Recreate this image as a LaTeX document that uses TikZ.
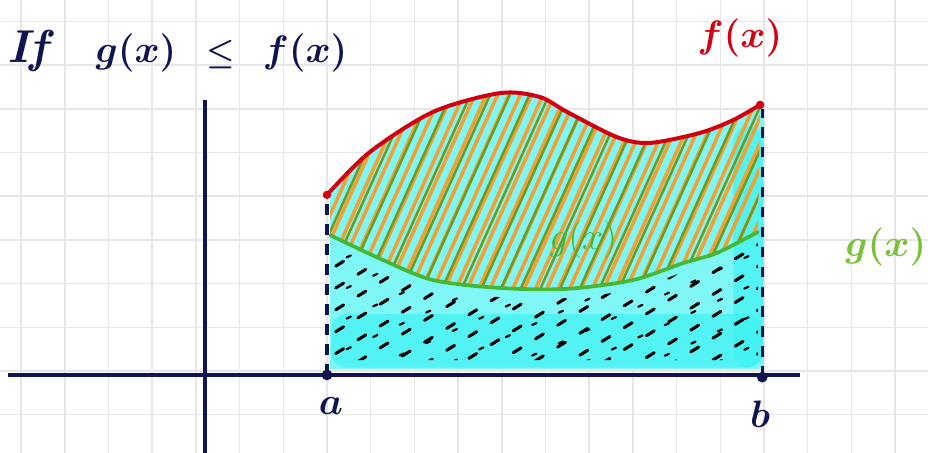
\documentclass[tikz,border=0pt]{standalone}
\usepackage{amssymb}
\usepackage{amsmath}
\usetikzlibrary{positioning}
\definecolor{Navy}{HTML}{101450}
\definecolor{GridGray}{HTML}{E6E6E6}
\definecolor{CurveRed}{HTML}{D00010}
\definecolor{CurveGreen}{HTML}{44B834}
\definecolor{LabelGreen}{HTML}{7AC13A}
\definecolor{HatchOrange}{HTML}{F2A033}
\definecolor{HatchOlive}{HTML}{6E9A22}
\definecolor{CyanLight}{HTML}{80F7F7}
\definecolor{CyanDark}{HTML}{40F2F2}

\begin{document}
\begin{tikzpicture}[
  gridline/.style={draw=GridGray, line width=1pt},
  axis/.style={draw=Navy, line width=2.6pt},
  fcurve/.style={draw=CurveRed, line width=2.6pt, line cap=round},
  gcurve/.style={draw=CurveGreen, line width=2.4pt, line cap=round},
  bound/.style={draw=Navy, line width=2pt, dash pattern=on 7pt off 6pt},
  hatchA/.style={draw=HatchOrange, line width=2.3pt, line cap=round},
  hatchB/.style={draw=HatchOlive, line width=1.6pt, line cap=round},
  scribble/.style={draw=black, line width=2pt, line cap=round, dash pattern=on 6pt off 11pt},
  dot/.style={circle, fill=#1, inner sep=0pt, minimum size=7pt},
  lbl/.style={font=\fontsize{30}{32}\selectfont\boldmath, anchor=base}]
\useasboundingbox (-7.483,-1.876) rectangle (13.753,8.490);
\fill[white] (-7.483,-1.876) rectangle (13.753,8.490);
\draw[gridline] (-7.483,-1.876) grid (13.753,8.490);

% area under f
\fill[CyanLight] plot[smooth] coordinates {(0.07,4.03) (0.98,5.01) (2.43,5.93) (3.96,6.36) (4.87,6.27) (5.49,5.93) (6.64,5.35) (7.39,5.22) (8.54,5.45) (9.29,5.74) (10.0,6.09)}
  -- (10.0,0.05) -- (0.07,0.05) -- cycle;
\fill[CyanDark, opacity=0.7, rounded corners=10pt] (0.1,0.08) rectangle (9.95,1.3);
\fill[CyanDark, opacity=0.7, rounded corners=10pt] (9.3,0.08) rectangle (9.98,5.6);

% hatching between g and f
\begin{scope}
\clip plot[smooth] coordinates {(0.07,4.03) (0.98,5.01) (2.43,5.93) (3.96,6.36) (4.87,6.27) (5.49,5.93) (6.64,5.35) (7.39,5.22) (8.54,5.45) (9.29,5.74) (9.91,6.09)}
  -- plot[smooth] coordinates {(9.86,3.18) (8.92,2.70) (8.15,2.47) (7.00,2.08) (5.49,1.88) (3.96,1.90) (2.43,2.08) (1.28,2.54) (0.07,3.11)} -- cycle;
\foreach \s in {-2.6,-2.34,...,10.2}
  \draw[hatchA] (\s+0.1,1.9) -- ++(2.2,4.9);
\foreach \s in {-2.4,-1.95,...,10.2}
  \draw[hatchB] (\s,1.7) -- ++(2.3,5.1);
\end{scope}

% dashes under g
\begin{scope}
\clip plot[smooth] coordinates {(0.07,2.9) (1.28,2.33) (2.43,1.87) (3.96,1.69) (5.49,1.67) (7.00,1.87) (8.15,2.26) (8.92,2.49) (9.86,2.97)}
  -- (9.86,0.25) -- (0.07,0.25) -- cycle;
\foreach \y in {-5.6,-5.1,...,3.0}
  \draw[scribble] (0.2,\y) -- ++(10,6.2);
\foreach \y in {-4.4,-3.7,...,3.0}
  \draw[scribble, line width=1.4pt, dash pattern=on 3pt off 16pt] (0.45,\y) -- ++(10,4.6);
\end{scope}

\node[lbl, font=\fontsize{24}{26}\selectfont, text=CurveGreen] (gmid) at (5.86,2.77) {$g(x)$};

\draw[gcurve] plot[smooth] coordinates {(0.07,3.11) (1.28,2.54) (2.43,2.08) (3.96,1.90) (5.49,1.88) (7.00,2.08) (8.15,2.47) (8.92,2.70) (9.86,3.18)};
\draw[fcurve] plot[smooth] coordinates {(0,4.03) (0.98,5.01) (2.43,5.93) (3.96,6.36) (4.87,6.27) (5.49,5.93) (6.64,5.35) (7.39,5.22) (8.54,5.45) (9.29,5.74) (9.91,6.09)};

\coordinate (a) at (0,-0.09);
\coordinate (b) at (9.96,-0.14);
\coordinate (fa) at (0,4.03);
\coordinate (fb) at (9.96,6.0);
\draw[bound] (a) -- (fa);
\draw[bound] (b) -- (fb);

% axes
\coordinate (xl) at (-7.30,-0.09);
\coordinate (xr) at (10.82,-0.09);
\coordinate (yt) at (-2.79,6.20);
\coordinate (yb) at (-2.79,-1.876);
\draw[axis] (xl) -- (xr);
\draw[axis] (yb) -- (yt);

\node[dot=Navy] (pa) at (a) {};
\node[dot=Navy] (pb) at (b) {};
\node[dot=CurveRed, minimum size=5.5pt] (pfa) at (fa) {};
\node[dot=CurveRed, minimum size=5.5pt] (pfb) at (9.91,6.09) {};

\node[lbl, text=Navy] (la) at (0.09,-1.0) {$a$};
\node[lbl, text=Navy] (lb) at (9.91,-1.30) {$b$};

\node[lbl, text=Navy, anchor=base west] (cond) at (-7.44,7.07) {\textit{\bfseries If}};
\node[lbl, text=Navy] (gx) at (-4.37,7.07) {$g(x)$};
\node[lbl, text=Navy, font=\fontsize{22}{24}\selectfont\boldmath] (le) at (-2.43,7.07) {$\leq$};
\node[lbl, text=Navy] (fx) at (-0.5,7.07) {$f(x)$};
\node[lbl, text=CurveRed, font=\fontsize{27}{29}\selectfont\boldmath] (flab) at (9.45,7.41) {$f(x)$};
\node[lbl, text=LabelGreen] (glab) at (12.79,2.61) {$g(x)$};
\end{tikzpicture}
\end{document}
